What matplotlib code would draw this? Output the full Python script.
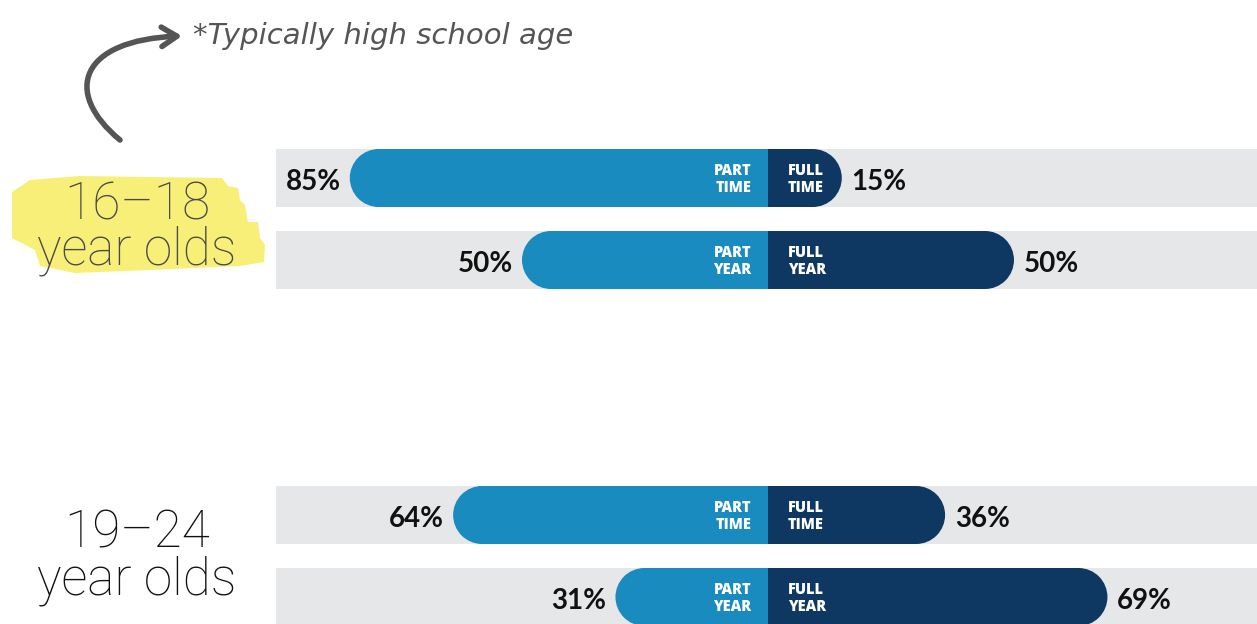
import matplotlib
matplotlib.use("Agg")
import matplotlib.pyplot as plt
from matplotlib.patches import Ellipse, Polygon, FancyArrowPatch
from matplotlib.path import Path

# ---------------- data ----------------
group_labels = ["16–18\nyear olds", "19–24\nyear olds"]
part_labels = ["PART\nTIME", "PART\nYEAR", "PART\nTIME", "PART\nYEAR"]
full_labels = ["FULL\nTIME", "FULL\nYEAR", "FULL\nTIME", "FULL\nYEAR"]
part_values = [85, 50, 64, 31]
full_values = [15, 50, 36, 69]
note_text = "*Typically high school age"

# ---------------- style ----------------
W, H = 1257, 624
C_PART = "#1A8BBF"
C_FULL = "#0E3862"
C_GRAY = "#E6E7E8"
C_HL = "#F8EF78"
FONT = ["Lato", "DejaVu Sans"]
LABEL_FONT = ["Open Sans", "DejaVu Sans"]
GROUP_FONT = ["Roboto", "DejaVu Sans"]

fig = plt.figure(figsize=(W / 100, H / 100), dpi=100)

# decoration axes in pixel units
deco = fig.add_axes([0, 0, 1, 1])
deco.set_xlim(0, W)
deco.set_ylim(H, 0)
deco.axis("off")

# data axes: x in percent (0 = centre), y in pixel rows
ax = fig.add_axes([0, 0, 1, 1])
ax.set_xlim(-156.1, 99.4)
ax.set_ylim(H, 0)
ax.axis("off")
ax.patch.set_alpha(0)

rows_y = [178, 260, 515, 597]
bar_h = 58
px_per_pct = W / (99.4 + 156.1)
r = (bar_h / 2) / px_per_pct  # cap radius in percent units

for y, pv, fv, pl, fl in zip(rows_y, part_values, full_values, part_labels, full_labels):
    ax.barh(y, 200, left=-100, height=bar_h, color=C_GRAY, zorder=1)
    # part (left) with rounded left end
    ax.barh(y, -(pv - r), left=0, height=bar_h, color=C_PART, zorder=2, linewidth=0)
    ax.add_patch(Ellipse((-(pv - r), y), 2 * r, bar_h, color=C_PART, zorder=2, lw=0))
    # full (right) with rounded right end
    ax.barh(y, fv - r, left=0, height=bar_h, color=C_FULL, zorder=2, linewidth=0)
    ax.add_patch(Ellipse((fv - r, y), 2 * r, bar_h, color=C_FULL, zorder=2, lw=0))
    # inner labels
    ax.text(-3.4, y + 1.5, pl, ha="right", va="center", color="white", fontsize=10.5,
            fontweight="heavy", family=LABEL_FONT, linespacing=1.1, zorder=3)
    ax.text(4.0, y + 1.5, fl, ha="left", va="center", color="white", fontsize=10.5,
            fontweight="heavy", family=LABEL_FONT, linespacing=1.1, zorder=3)
    # percent labels
    ax.text(-pv - 1.8, y + 4, f"{pv}%", ha="right", va="center", color="#111111",
            fontsize=20, fontweight="bold", family=FONT, zorder=3)
    ax.text(fv + 2.0, y + 4, f"{fv}%", ha="left", va="center", color="#111111",
            fontsize=20, fontweight="bold", family=FONT, zorder=3)

# highlight behind first group label
hl = [(12, 192), (30, 180), (80, 176), (150, 177), (222, 178), (228, 186), (238, 188),
      (240, 200), (245, 205), (248, 222), (258, 222), (260, 238), (265, 245), (264, 262),
      (240, 266), (150, 270), (75, 273), (40, 266), (35, 250), (12, 238)]
deco.add_patch(Polygon(hl, closed=True, color=C_HL, lw=0, zorder=1))

# group labels (two lines each, baseline-aligned)
group_colors = ["#4A4A4A", "#111111"]
group_shift = [3, -5]
for i, (lab, col) in enumerate(zip(group_labels, group_colors)):
    yc = (rows_y[2 * i] + rows_y[2 * i + 1]) / 2 + group_shift[i]
    l1, l2 = lab.split("\n")
    deco.text(137, yc - 3, l1, ha="center", va="baseline", fontsize=37, color=col,
              fontweight="light", family=GROUP_FONT, zorder=3)
    deco.text(137, yc + 43, l2, ha="center", va="baseline", fontsize=37, color=col,
              fontweight="light", family=GROUP_FONT, zorder=3)

# curved arrow + note
arrow_path = Path([(120, 140), (62, 92), (80, 40), (182, 36)],
                  [Path.MOVETO, Path.CURVE4, Path.CURVE4, Path.CURVE4])
arr = FancyArrowPatch(path=arrow_path,
                      arrowstyle="->,head_length=0.55,head_width=0.35", mutation_scale=20,
                      lw=4, color="#555555", zorder=3)
deco.add_patch(arr)
deco.text(193, 36, note_text, ha="left", va="center", fontsize=21, color="#555555",
          style="italic", family=["DejaVu Sans"], zorder=3)

fig.savefig("out.png", dpi=100)
